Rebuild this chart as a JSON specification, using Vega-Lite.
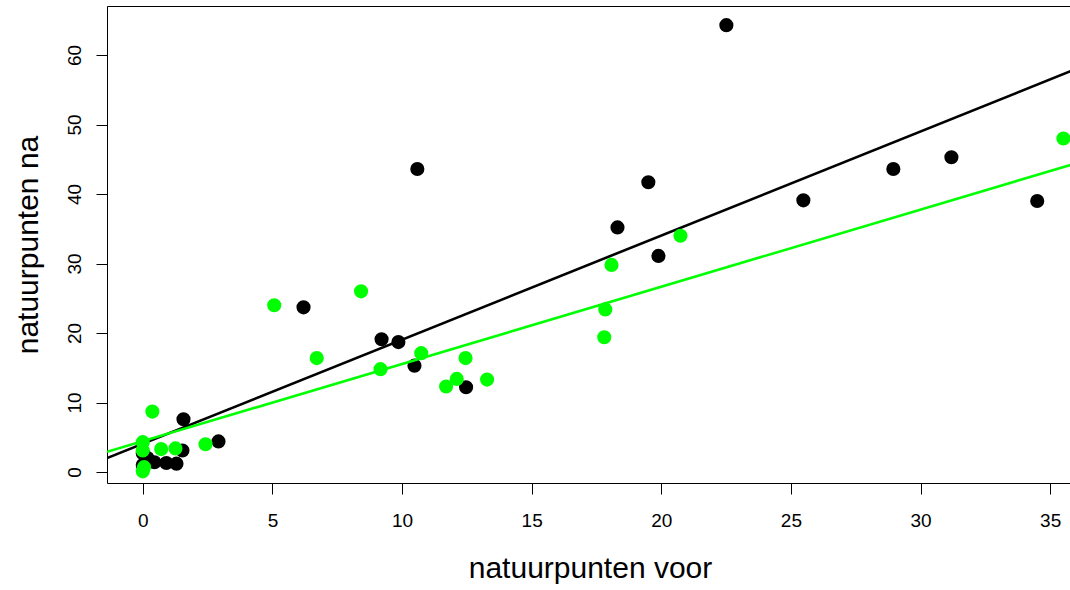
{
  "$schema": "https://vega.github.io/schema/vega-lite/v6.json",
  "autosize": "none",
  "width": 966,
  "height": 477,
  "padding": {"left": 107, "top": 6, "right": 0, "bottom": 107},
  "background": "white",
  "config": {
    "view": {"stroke": "#000000", "strokeWidth": 1},
    "font": "Liberation Sans",
    "axis": {
      "domain": false,
      "grid": false,
      "ticks": true,
      "tickColor": "#000000",
      "tickSize": 11,
      "tickWidth": 1,
      "labelColor": "#000000",
      "labelFont": "Liberation Sans",
      "labelFontSize": 19,
      "titleFont": "Liberation Sans",
      "titleFontSize": 30,
      "titleFontWeight": "normal",
      "titleColor": "#000000"
    }
  },
  "datasets": {
    "punten": [
      {"voor": 22.51, "na": 64.3, "groep": "A"},
      {"voor": 10.59, "na": 43.6, "groep": "A"},
      {"voor": 19.5, "na": 41.7, "groep": "A"},
      {"voor": 18.31, "na": 35.2, "groep": "A"},
      {"voor": 19.89, "na": 31.1, "groep": "A"},
      {"voor": 25.48, "na": 39.1, "groep": "A"},
      {"voor": 28.95, "na": 43.6, "groep": "A"},
      {"voor": 31.19, "na": 45.3, "groep": "A"},
      {"voor": 34.5, "na": 39.0, "groep": "A"},
      {"voor": 6.2, "na": 23.7, "groep": "A"},
      {"voor": 9.21, "na": 19.1, "groep": "A"},
      {"voor": 9.86, "na": 18.7, "groep": "A"},
      {"voor": 10.48, "na": 15.3, "groep": "A"},
      {"voor": 12.47, "na": 12.2, "groep": "A"},
      {"voor": 1.57, "na": 7.6, "groep": "A"},
      {"voor": 2.92, "na": 4.4, "groep": "A"},
      {"voor": 1.53, "na": 3.1, "groep": "A"},
      {"voor": 0.91, "na": 1.3, "groep": "A"},
      {"voor": 1.3, "na": 1.2, "groep": "A"},
      {"voor": 0.18, "na": 2.0, "groep": "A"},
      {"voor": 0.45, "na": 1.4, "groep": "A"},
      {"voor": 0.0, "na": 2.7, "groep": "A"},
      {"voor": 0.0, "na": 1.0, "groep": "A"},
      {"voor": 0.37, "na": 8.7, "groep": "B"},
      {"voor": 0.0, "na": 4.3, "groep": "B"},
      {"voor": 0.0, "na": 3.1, "groep": "B"},
      {"voor": 0.05, "na": 0.7, "groep": "B"},
      {"voor": 0.0, "na": 0.1, "groep": "B"},
      {"voor": 0.71, "na": 3.3, "groep": "B"},
      {"voor": 1.26, "na": 3.4, "groep": "B"},
      {"voor": 2.42, "na": 4.0, "groep": "B"},
      {"voor": 5.07, "na": 24.0, "groep": "B"},
      {"voor": 8.42, "na": 26.0, "groep": "B"},
      {"voor": 6.71, "na": 16.4, "groep": "B"},
      {"voor": 9.17, "na": 14.8, "groep": "B"},
      {"voor": 10.74, "na": 17.1, "groep": "B"},
      {"voor": 12.45, "na": 16.4, "groep": "B"},
      {"voor": 11.7, "na": 12.3, "groep": "B"},
      {"voor": 12.11, "na": 13.4, "groep": "B"},
      {"voor": 13.28, "na": 13.3, "groep": "B"},
      {"voor": 18.08, "na": 29.8, "groep": "B"},
      {"voor": 17.84, "na": 23.4, "groep": "B"},
      {"voor": 17.8, "na": 19.4, "groep": "B"},
      {"voor": 20.74, "na": 34.0, "groep": "B"},
      {"voor": 35.51, "na": 48.0, "groep": "B"}
    ],
    "lijnen": [
      {"voor": -1.38, "na": 2.0, "groep": "A"},
      {"voor": 35.88, "na": 57.82, "groep": "A"},
      {"voor": -1.38, "na": 2.91, "groep": "B"},
      {"voor": 35.88, "na": 44.3, "groep": "B"}
    ]
  },
  "encoding": {
    "x": {
      "field": "voor", "type": "quantitative",
      "scale": {"domain": [-1.38, 35.88], "nice": false, "zero": false},
      "axis": {"values": [0, 5, 10, 15, 20, 25, 30, 35], "title": "natuurpunten voor", "labelPadding": 17, "titlePadding": 23}
    },
    "y": {
      "field": "na", "type": "quantitative",
      "scale": {"domain": [-1.58, 67.06], "nice": false, "zero": false},
      "axis": {"values": [0, 10, 20, 30, 40, 50, 60], "title": "natuurpunten na", "labelAngle": -90, "labelAlign": "center", "labelBaseline": "alphabetic", "labelPadding": 16, "titlePadding": 22}
    },
    "color": {
      "field": "groep", "type": "nominal",
      "scale": {"domain": ["A", "B"], "range": ["#000000", "#00ff00"]},
      "legend": null
    }
  },
  "layer": [
    {
      "data": {"name": "punten"},
      "transform": [{"filter": "datum.groep === 'A'"}],
      "mark": {"type": "circle", "size": 200, "opacity": 1}
    },
    {
      "data": {"name": "lijnen"},
      "transform": [{"filter": "datum.groep === 'A'"}],
      "mark": {"type": "line", "strokeWidth": 2.6, "clip": true}
    },
    {
      "data": {"name": "punten"},
      "transform": [{"filter": "datum.groep === 'B'"}],
      "mark": {"type": "circle", "size": 200, "opacity": 1}
    },
    {
      "data": {"name": "lijnen"},
      "transform": [{"filter": "datum.groep === 'B'"}],
      "mark": {"type": "line", "strokeWidth": 2.6, "clip": true}
    }
  ]
}
